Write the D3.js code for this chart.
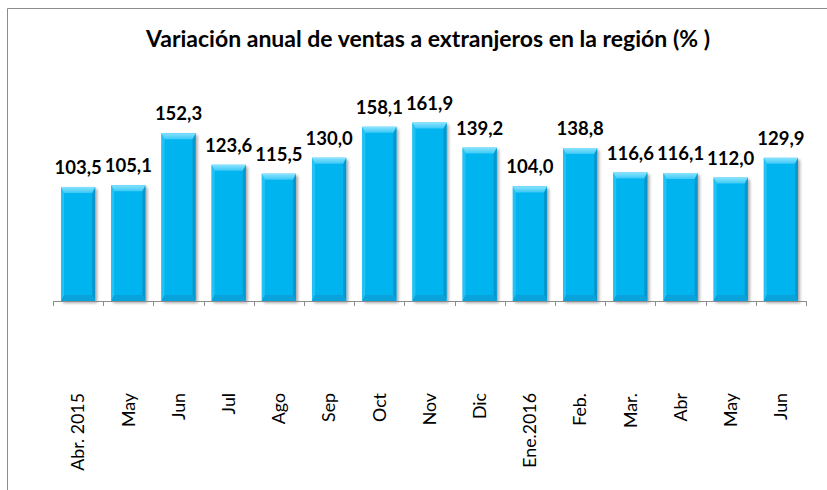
<!DOCTYPE html>
<html>
<head>
<meta charset="utf-8">
<script src="https://cdn.jsdelivr.net/npm/d3@7"></script>
<style>
  body { margin: 0; background: #fff; }
  svg text { font-family: Lato, "Open Sans", sans-serif; fill: #000; }
</style>
</head>
<body>
<div id="chart"></div>
<script>
// Data
const categories = ['Abr. 2015', 'May', 'Jun', 'Jul', 'Ago', 'Sep', 'Oct', 'Nov', 'Dic',
  'Ene.2016', 'Feb.', 'Mar.', 'Abr', 'May ', 'Jun ']
const values = [103.5, 105.1, 152.3, 123.6, 115.5, 130.0, 158.1, 161.9, 139.2,
  104.0, 138.8, 116.6, 116.1, 112.0, 129.9]
const title = 'Variación anual de ventas a extranjeros en la región (% )'

const dataset = categories.map((c, i) => ({ cat: c, val: values[i] }))

let dimensions = {
  width: 827,
  height: 490,
  axisY: 301,
  left: 53,
  right: 806
}

const svg = d3.select('#chart')
  .append('svg')
  .attr('width', dimensions.width)
  .attr('height', dimensions.height)

const defs = svg.append('defs')
const shadow = defs.append('filter').attr('id', 'shadow')
  .attr('x', '-20%').attr('y', '-20%').attr('width', '150%').attr('height', '150%')
shadow.append('feDropShadow')
  .attr('dx', 2).attr('dy', 2).attr('stdDeviation', 1.5)
  .attr('flood-color', '#000').attr('flood-opacity', 0.35)

// top bevel gradient
const topGrad = defs.append('linearGradient').attr('id', 'topGrad')
  .attr('x1', 0).attr('y1', 0).attr('x2', 0).attr('y2', 1)
topGrad.append('stop').attr('offset', '0%').attr('stop-color', '#8ae4ff')
topGrad.append('stop').attr('offset', '100%').attr('stop-color', '#3cc8f6')

// chart frame (only left and top visible)
svg.append('path')
  .attr('d', `M7.5,${dimensions.height} V8.5 H${dimensions.width}`)
  .attr('fill', 'none')
  .attr('stroke', '#8c8c8c')
  .attr('stroke-width', 1)

svg.append('text')
  .attr('x', 428)
  .attr('y', 47)
  .attr('text-anchor', 'middle')
  .style('font-size', '23px')
  .style('font-weight', 'bold')
  .text(title)

// Scales
const xScale = d3.scaleBand()
  .domain(categories)
  .range([dimensions.left, dimensions.right])
  .paddingInner(0.32)
  .paddingOuter(0.16)

const yScale = d3.scaleLinear()
  .domain([0, 200])
  .range([dimensions.axisY, dimensions.axisY - 220.4])

// Bars
const bw = xScale.bandwidth()
const bev = 6
const bars = svg.append('g').selectAll('g')
  .data(dataset)
  .join('g')
  .attr('transform', d => `translate(${xScale(d.cat)}, ${yScale(d.val)})`)

bars.append('rect')
  .attr('width', bw)
  .attr('height', d => yScale(0) - yScale(d.val))
  .attr('fill', '#06b4ef')
  .attr('filter', 'url(#shadow)')

// right edge darker
bars.append('path')
  .attr('d', d => {
    const h = yScale(0) - yScale(d.val)
    return `M${bw - 3},${bev} L${bw},0 V${h} L${bw - 3},${h - bev} Z`
  })
  .attr('fill', '#0797cc')

// left edge slightly lighter
bars.append('path')
  .attr('d', d => {
    const h = yScale(0) - yScale(d.val)
    return `M0,0 L3,${bev} V${h - bev} L0,${h} Z`
  })
  .attr('fill', '#22c2f5')

// bottom bevel
bars.append('path')
  .attr('d', d => {
    const h = yScale(0) - yScale(d.val)
    return `M0,${h} L3,${h - bev} H${bw - 3} L${bw},${h} Z`
  })
  .attr('fill', '#0aa2da')

// top bevel lighter
bars.append('path')
  .attr('d', `M0,0 H${bw} L${bw - 3},${bev} H3 Z`)
  .attr('fill', 'url(#topGrad)')

// value labels
svg.append('g').selectAll('text')
  .data(dataset)
  .join('text')
  .attr('x', d => xScale(d.cat) + bw / 2)
  .attr('y', d => yScale(d.val) - 13)
  .attr('text-anchor', 'middle')
  .style('font-size', '18.5px')
  .style('font-weight', 'bold')
  .text(d => d3.format('.1f')(d.val).replace('.', ','))

// x axis
const xAxis = d3.axisBottom(xScale).tickSize(0).tickFormat('')
const xAxisGroup = svg.append('g')
  .attr('transform', `translate(0, ${dimensions.axisY})`)
  .call(xAxis)
xAxisGroup.select('.domain')
  .attr('stroke', '#8c8c8c')
  .attr('d', `M${dimensions.left},0.5 H${dimensions.right}`)

// tick marks at band boundaries
const step = xScale.step()
const boundaries = d3.range(categories.length + 1).map(i => dimensions.left + i * step)
xAxisGroup.selectAll('line.bound')
  .data(boundaries)
  .join('line')
  .attr('class', 'bound')
  .attr('x1', d => Math.round(d) + 0.5)
  .attr('x2', d => Math.round(d) + 0.5)
  .attr('y1', 0)
  .attr('y2', 5)
  .attr('stroke', '#8c8c8c')

// rotated category labels
svg.append('g').selectAll('text')
  .data(dataset)
  .join('text')
  .attr('transform', d => `translate(${xScale(d.cat) + bw / 2}, 393) rotate(-90)`)
  .attr('text-anchor', 'end')
  .attr('dy', '0.35em')
  .style('font-size', '17.8px')
  .text(d => d.cat.trim())
</script>
</body>
</html>
